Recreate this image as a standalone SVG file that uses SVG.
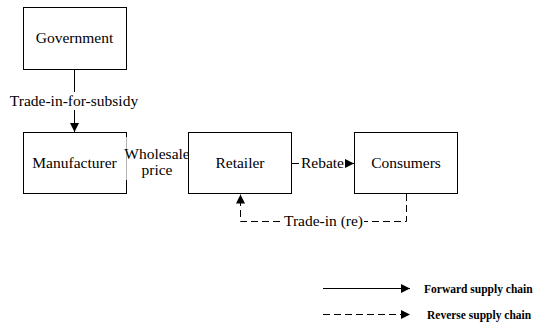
<svg xmlns="http://www.w3.org/2000/svg" width="547" height="329" viewBox="0 0 547 329">
<defs>
<style>
.box{fill:#fff;stroke:#000;stroke-width:1}
.lbl{font-family:'Liberation Serif','Times New Roman',serif;font-size:15.5px;fill:#000;text-anchor:middle}
.leg{font-family:'Liberation Serif','Times New Roman',serif;font-size:11.5px;font-weight:bold;fill:#000}
.ln{fill:none;stroke:#000;stroke-width:1}
.dash{fill:none;stroke:#000;stroke-width:1;stroke-dasharray:7 4}
.bg{fill:#fff}
</style>
<marker id="ah" viewBox="0 0 10 10" refX="10" refY="5" markerWidth="9" markerHeight="9" markerUnits="userSpaceOnUse" orient="auto">
<path d="M0,0 L10,5 L0,10 Z" fill="#000"/>
</marker>
</defs>
<rect width="547" height="329" fill="#fff"/>
<g id="connectors">
<line class="ln" x1="74.5" y1="69" x2="74.5" y2="132" marker-end="url(#ah)"/>
<rect class="bg" x="8" y="92" width="133" height="18"/>
<text class="lbl" x="74" y="106">Trade-in-for-subsidy</text>
<line class="ln" x1="292" y1="163.5" x2="354" y2="163.5" marker-end="url(#ah)"/>
<rect class="bg" x="299" y="154" width="46" height="18"/>
<text class="lbl" x="322.5" y="168">Rebate</text>
<polyline class="dash" points="406.5,194 406.5,221.5 240.5,221.5 240.5,194.5" marker-end="url(#ah)"/>
<rect class="bg" x="283" y="212" width="81" height="18"/>
<text class="lbl" x="323.5" y="226">Trade-in (re)</text>
</g>
<g id="government">
<rect class="box" x="23.5" y="7.5" width="103" height="62"/>
<text class="lbl" x="74.5" y="43">Government</text>
</g>
<g id="manufacturer">
<rect class="box" x="23.5" y="132.5" width="103" height="61"/>
<text class="lbl" x="74.5" y="168">Manufacturer</text>
</g>
<g id="wholesale-price">
<rect class="bg" x="126.3" y="137" width="61.4" height="43"/>
<text class="lbl" x="157" y="159">Wholesale</text>
<text class="lbl" x="157" y="175">price</text>
</g>
<g id="retailer">
<rect class="box" x="188.5" y="132.5" width="103" height="61"/>
<text class="lbl" x="240" y="168">Retailer</text>
</g>
<g id="consumers">
<rect class="box" x="354.5" y="132.5" width="103" height="61"/>
<text class="lbl" x="406" y="168">Consumers</text>
</g>
<g id="legend">
<line class="ln" x1="323" y1="288.5" x2="410" y2="288.5" marker-end="url(#ah)"/>
<text class="leg" x="424" y="292.5">Forward supply chain</text>
<line class="dash" x1="323" y1="314.5" x2="410" y2="314.5" marker-end="url(#ah)"/>
<text class="leg" x="427" y="318.5">Reverse supply chain</text>
</g>
</svg>
